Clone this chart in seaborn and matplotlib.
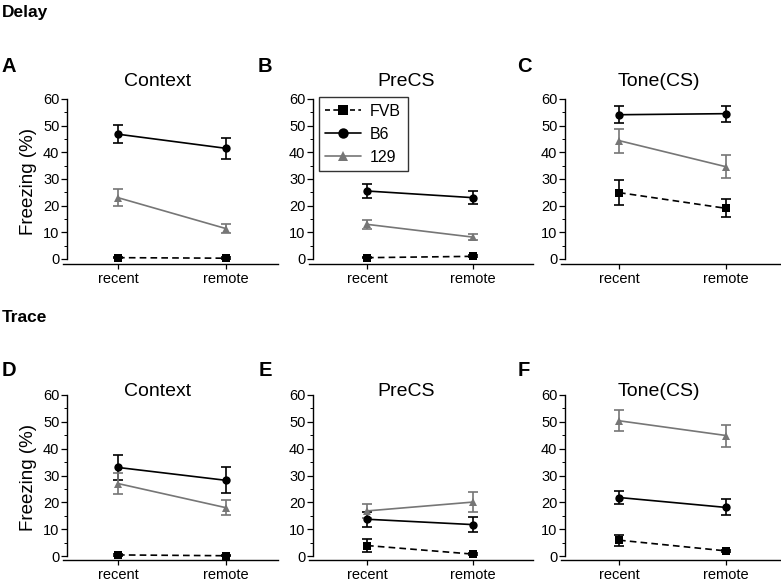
import numpy as np
import pandas as pd
import matplotlib
matplotlib.use("Agg")
import matplotlib.pyplot as plt
import matplotlib.transforms as mtransforms
import seaborn as sns
from matplotlib.lines import Line2D
from matplotlib.ticker import MultipleLocator

sns.set_theme(style="ticks")
plt.rcParams['font.family'] = ['Liberation Sans', 'DejaVu Sans']
plt.rcParams['text.color'] = 'black'
plt.rcParams['axes.labelcolor'] = 'black'
plt.rcParams['xtick.color'] = 'black'
plt.rcParams['ytick.color'] = 'black'
plt.rcParams['axes.edgecolor'] = 'black'

sessions = ["recent", "remote"]
strains = ["FVB", "B6", "129"]
panel_letters = ["A", "B", "C", "D", "E", "F"]
tests = ["Context", "PreCS", "Tone(CS)", "Context", "PreCS", "Tone(CS)"]
row_titles = ["Delay", "Trace"]

fvb_mean = [[0.5, 0.3], [0.5, 1.0], [24.9, 19.0], [0.4, 0.1], [3.9, 0.7], [5.9, 1.9]]
fvb_err = [[0.3, 0.3], [0.3, 0.4], [4.6, 3.4], [0.3, 0.2], [2.5, 0.4], [2.0, 0.5]]
b6_mean = [[46.8, 41.5], [25.5, 23.0], [54.1, 54.5], [33.0, 28.2], [13.7, 11.7], [21.8, 18.1]]
b6_err = [[3.3, 4.0], [2.8, 2.4], [3.2, 3.0], [4.5, 4.8], [2.8, 2.8], [2.3, 3.0]]
s129_mean = [[23.0, 11.4], [13.0, 8.2], [44.4, 34.6], [27.0, 18.0], [16.8, 20.1], [50.4, 44.9]]
s129_err = [[3.1, 1.6], [1.6, 1.0], [4.5, 4.3], [3.9, 2.8], [2.6, 3.8], [3.9, 4.1]]

means = {"FVB": fvb_mean, "B6": b6_mean, "129": s129_mean}
errs = {"FVB": fvb_err, "B6": b6_err, "129": s129_err}
colors = {"FVB": "black", "B6": "black", "129": "#767676"}
markers = {"FVB": "s", "B6": "o", "129": "^"}
msizes = {"FVB": 6.5, "B6": 7.5, "129": 7}
dashes = {"FVB": (4, 2.5), "B6": "", "129": ""}

W, H = 781, 581
fig = plt.figure(figsize=(W / 100, H / 100), dpi=100)

# column geometry in pixels: axis left, axis right, recent px, remote px, y-spine px
cols = [(63, 278, 118, 226, 67), (309, 533, 367, 473, 313), (561, 780, 619, 726, 565)]
# rows: y=60 px, y=0 px, x-axis px
rows = [(99, 259, 264), (395, 556, 560)]

axes = []
for i in range(6):
    r, c = divmod(i, 3)
    lpx, rpx, p0, p1, ysp = cols[c]
    top, zero, xax = rows[r]
    unit = p1 - p0
    yunit = (zero - top) / 60.0
    ax = fig.add_axes([lpx / W, 1 - xax / H, (rpx - lpx) / W, (xax - top) / H])
    ax.set_xlim(-(p0 - lpx) / unit, 1 + (rpx - p1) / unit)
    ax.set_ylim(-(xax - zero) / yunit, 60)

    rows_df = []
    for s in strains:
        for j, sess in enumerate(sessions):
            rows_df.append({"session": j, "strain": s, "freezing": means[s][i][j], "err": errs[s][i][j]})
    df = pd.DataFrame(rows_df)

    for s in strains:
        sub = df[df.strain == s]
        ax.errorbar(sub.session, sub.freezing, yerr=sub.err, fmt="none", ecolor=colors[s],
                    elinewidth=1.2, capsize=3.5, capthick=1.2, clip_on=False, zorder=2)
    sns.lineplot(data=df, x="session", y="freezing", hue="strain", style="strain",
                 palette=colors, markers=markers, dashes=dashes, hue_order=strains,
                 style_order=strains, ax=ax, legend=False, linewidth=1.2,
                 markeredgewidth=0, estimator=None, sort=False, zorder=3)
    for ln in ax.lines:
        ln.set_clip_on(False)
    for ln, s in zip(ax.lines, strains):
        ln.set_markersize(msizes[s])

    sns.despine(ax=ax)
    ax.spines['left'].set_position(('data', -(p0 - ysp) / unit))
    ax.spines['left'].set_bounds(0, 60)
    ax.spines['left'].set_linewidth(1.0)
    ax.spines['bottom'].set_linewidth(1.0)
    ax.set_xticks([0, 1])
    ax.set_xticklabels(sessions, fontsize=10.5)
    ax.set_yticks(range(0, 61, 10))
    ax.yaxis.set_minor_locator(MultipleLocator(5))
    ax.tick_params(axis="y", which="major", length=4, width=0.9, labelsize=10.5, pad=1.5)
    ax.tick_params(axis="y", which="minor", length=2, width=0.7)
    ax.tick_params(axis="x", length=3.5, width=0.9, pad=2)
    ax.set_xlabel("")
    ax.set_ylabel("")
    ax.patch.set_alpha(0)
    title_y = 82 if r == 0 else 391
    ax.text(0.37, 1 - (title_y - top) / (xax - top), tests[i],
            transform=mtransforms.blended_transform_factory(ax.transData, ax.transAxes),
            ha="center", va="center", fontsize=14)
    letter_x = [9, 265, 524][c]
    letter_y = 67 if r == 0 else 370
    fig.text(letter_x / W, 1 - letter_y / H, panel_letters[i], fontsize=14.5, fontweight="bold",
             ha="center", va="center")
    if c == 0:
        ax.set_ylabel("Freezing (%)", fontsize=13.5, labelpad=4)
    axes.append(ax)

fig.text(2 / W, 1 - 13 / H, row_titles[0], fontsize=12.5, fontweight="bold", ha="left", va="center")
fig.text(2 / W, 1 - 318 / H, row_titles[1], fontsize=12.5, fontweight="bold", ha="left", va="center")

handles = []
for s in strains:
    if s == "FVB":
        h = Line2D([0], [0], color=colors[s], marker=markers[s], markersize=msizes[s],
                   linestyle="--", dashes=(3, 2), linewidth=1.2, markeredgewidth=0)
    else:
        h = Line2D([0], [0], color=colors[s], marker=markers[s], markersize=msizes[s],
                   linestyle="-", linewidth=1.2, markeredgewidth=0)
    handles.append(h)
leg = axes[1].legend(handles, strains, loc="upper left", bbox_to_anchor=((319 - 309) / (533 - 309), 1.01),
                     frameon=True, fontsize=11.5, handlelength=2.2, handletextpad=0.6,
                     borderpad=0.4, labelspacing=0.5, fancybox=False, borderaxespad=0)
leg.get_frame().set_edgecolor("black")
leg.get_frame().set_linewidth(1.0)
for t in leg.get_texts():
    t.set_color("black")

fig.savefig("out.png", dpi=100, facecolor="white")
